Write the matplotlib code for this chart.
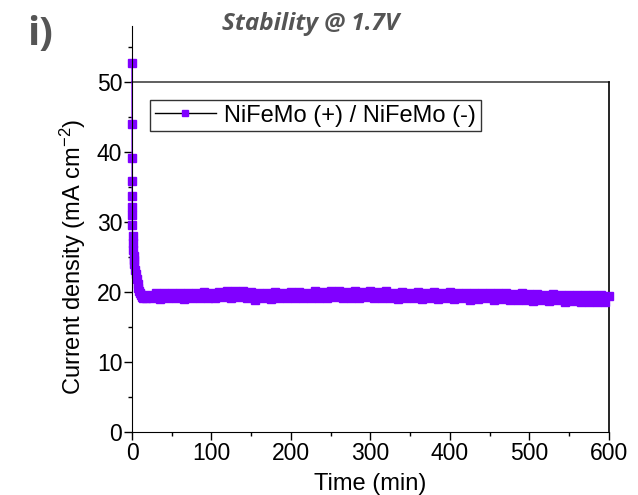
import numpy as np
import matplotlib.pyplot as plt
from matplotlib.ticker import MultipleLocator
from matplotlib import rc

rc('font', **{'family': 'sans-serif', 'sans-serif': ['Liberation Sans'], 'size': 17})
rc('mathtext', fontset='custom', rm='Liberation Sans', it='Liberation Sans:italic')

# early decay (min, mA cm-2)
t_start = [0, 0.05, 0.1, 0.15, 0.2, 0.25, 0.35, 0.5, 0.8, 1.2, 1.6, 2, 2.5, 3, 4, 5,
           6, 7, 8, 9, 10, 11, 12, 14, 16, 18, 20]
j_start = [52.7, 44.0, 39.2, 35.9, 33.7, 32.1, 31.0, 29.5, 28.0, 27.0, 26.0, 25.2, 24.5,
           24.0, 23.2, 22.5, 21.8, 21.2, 20.6, 20.2, 19.8, 19.5, 19.3, 19.2, 19.3, 19.1, 19.5]

# steady part, every 5 min from 25 to 600
t_flat = list(range(25, 601, 5))
j_flat = [19.1, 19.8, 19.0, 19.9, 19.1, 19.8, 19.2, 19.9, 19.0, 19.8, 19.2, 19.9, 19.1, 20.0, 19.2, 19.9,
          19.2, 20.0, 19.3, 20.1, 19.2, 20.2, 19.3, 20.1, 19.2, 20.0, 18.9, 19.9, 19.2, 19.9, 19.0, 20.0, 19.1, 19.9, 19.2, 20.0,
          19.1, 20.0, 19.2, 19.9, 19.1, 20.1, 19.2, 20.0, 19.2, 20.1, 19.3, 20.1, 19.2, 20.0, 19.1, 20.1, 19.2, 20.0, 19.3, 20.1,
          19.2, 20.0, 19.1, 20.1, 19.2, 19.9, 19.0, 20.0, 19.2, 19.9, 19.1, 20.0, 19.0, 19.9, 19.1, 20.0, 19.0, 19.9, 19.1, 20.0,
          19.0, 19.9, 19.1, 19.8, 18.9, 19.9, 19.0, 19.8, 19.1, 19.9, 18.9, 19.8, 19.0, 19.9, 18.9, 19.7, 18.8, 19.8, 18.9, 19.7,
          18.7, 19.7, 18.8, 19.6, 18.7, 19.7, 18.8, 19.6, 18.6, 19.5, 18.7, 19.6, 18.6, 19.5, 18.5, 19.5, 18.6, 19.5, 18.5, 19.4]

time = np.array(t_start + t_flat)
current = np.array(j_start + j_flat)
purple = '#8000FF'

fig = plt.figure(figsize=(6.38, 4.95), dpi=100)
ax = fig.add_axes([0.2069, 0.1273, 0.7476, 0.8202])

ax.plot(time, current, '-s', color=purple, markersize=5.5, linewidth=1, clip_on=False,
        label='NiFeMo (+) / NiFeMo (-)')

ax.set_xlim(0, 600)
ax.set_ylim(0, 58)
ax.spines['top'].set_visible(False)
ax.spines['right'].set_visible(False)
# frame closes at 50 like the original
ax.plot([0, 600], [50, 50], color='#444444', linewidth=1.2, clip_on=False, zorder=1)
ax.plot([600, 600], [0, 50], color='black', linewidth=1.2, clip_on=False, zorder=1)

ax.set_xticks(np.arange(0, 601, 100))
ax.set_yticks(np.arange(0, 51, 10))
ax.xaxis.set_minor_locator(MultipleLocator(50))
ax.set_yticks(np.arange(5, 56, 5), minor=True)
ax.tick_params(which='major', direction='out', length=6, width=1, labelsize=16.5, pad=1)
ax.tick_params(which='minor', direction='out', length=3, width=1)

ax.set_xlabel('Time (min)', fontsize=17, labelpad=6)
ax.set_ylabel('Current density (mA cm$^{-2}$)', fontsize=17)
ax.yaxis.set_label_coords(-0.092, 25 / 58)

leg = ax.legend(loc='upper left', bbox_to_anchor=(0.0377, 0.8177), borderaxespad=0, fancybox=False,
                edgecolor='#333333', framealpha=1, fontsize=17, handlelength=2.6, borderpad=0.2,
                handletextpad=0.35, markerscale=0.8)
# legend line is black in the original, marker stays purple
h = leg.get_lines()[0]
h.set_color('black')
h.set_markerfacecolor(purple)
h.set_markeredgecolor(purple)

fig.text(0.487, 0.952, 'Stability @ 1.7V', fontsize=17.5, fontweight='bold', style='italic',
         color='#555555', ha='center', va='center', family='Open Sans')
fig.text(0.063, 0.93, 'i)', fontsize=29, fontweight='bold', color='#555555', ha='center',
         va='center', family='Open Sans')

fig.savefig('out.png', dpi=100)
